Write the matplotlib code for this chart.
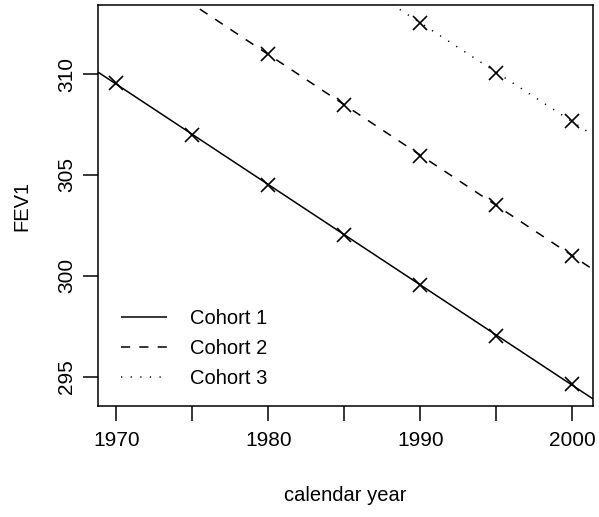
import numpy as np
import matplotlib
matplotlib.use("Agg")
from matplotlib import pyplot as plt

# predicted FEV1 per cohort
years = [1970, 1975, 1980, 1985, 1990, 1995, 2000]
cohort1_years = years
cohort1_fev = [309.55, 307.0, 304.5, 302.0, 299.55, 297.0, 294.65]
cohort2_years = [1980, 1985, 1990, 1995, 2000]
cohort2_fev = [311.0, 308.45, 305.95, 303.5, 301.0]
cohort3_years = [1990, 1995, 2000]
cohort3_fev = [312.55, 310.05, 307.65]
labels = ['Cohort 1', 'Cohort 2', 'Cohort 3']

plt.rcParams['font.family'] = ['Liberation Sans', 'DejaVu Sans']

fig = plt.figure(figsize=(5.99, 5.17), dpi=100)
ax = fig.add_axes([0.1636, 0.2147, 0.99 - 0.1636, 0.9903 - 0.2147])

xlim = (1968.8, 2001.35)
ax.set_xlim(*xlim)
ax.set_ylim(293.55, 313.42)

styles = [(0, ()), (0, (6, 6)), (0, (0.8, 5.5))]
groups = [(cohort1_years, cohort1_fev), (cohort2_years, cohort2_fev), (cohort3_years, cohort3_fev)]

xx = np.array(xlim)
for (yr, fev), ls, lab in zip(groups, styles, labels):
    # straight line through each cohort, drawn over the whole plot width
    b, a = np.polyfit(yr, fev, 1)
    ax.plot(xx, a + b * xx, color='black', linestyle=ls, lw=1.1, label=lab)
    ax.plot(yr, fev, 'x', color='black', ms=10, mew=1.2)

ax.set_xticks([1970, 1975, 1980, 1985, 1990, 1995, 2000])
ax.set_xticklabels(['1970', '', '1980', '', '1990', '', '2000'])
ax.set_yticks([295, 300, 305, 310])
ax.tick_params(axis='both', length=11, width=1.1, labelsize=15, color='black')
ax.tick_params(axis='x', pad=7)
ax.tick_params(axis='y', pad=5)
for t in ax.get_yticklabels():
    t.set_rotation(90)
    t.set_va('center')
for s in ax.spines.values():
    s.set_linewidth(1.1)

ax.set_xlabel('calendar year', fontsize=14.5, labelpad=26)
ax.set_ylabel('FEV1', fontsize=14.5, labelpad=18)

ax.legend(loc='lower left', bbox_to_anchor=(0.01, 0.0), frameon=False, fontsize=14.5,
          handlelength=2.3, handletextpad=1.1, labelspacing=0.55)

fig.savefig('out.png', dpi=100)
